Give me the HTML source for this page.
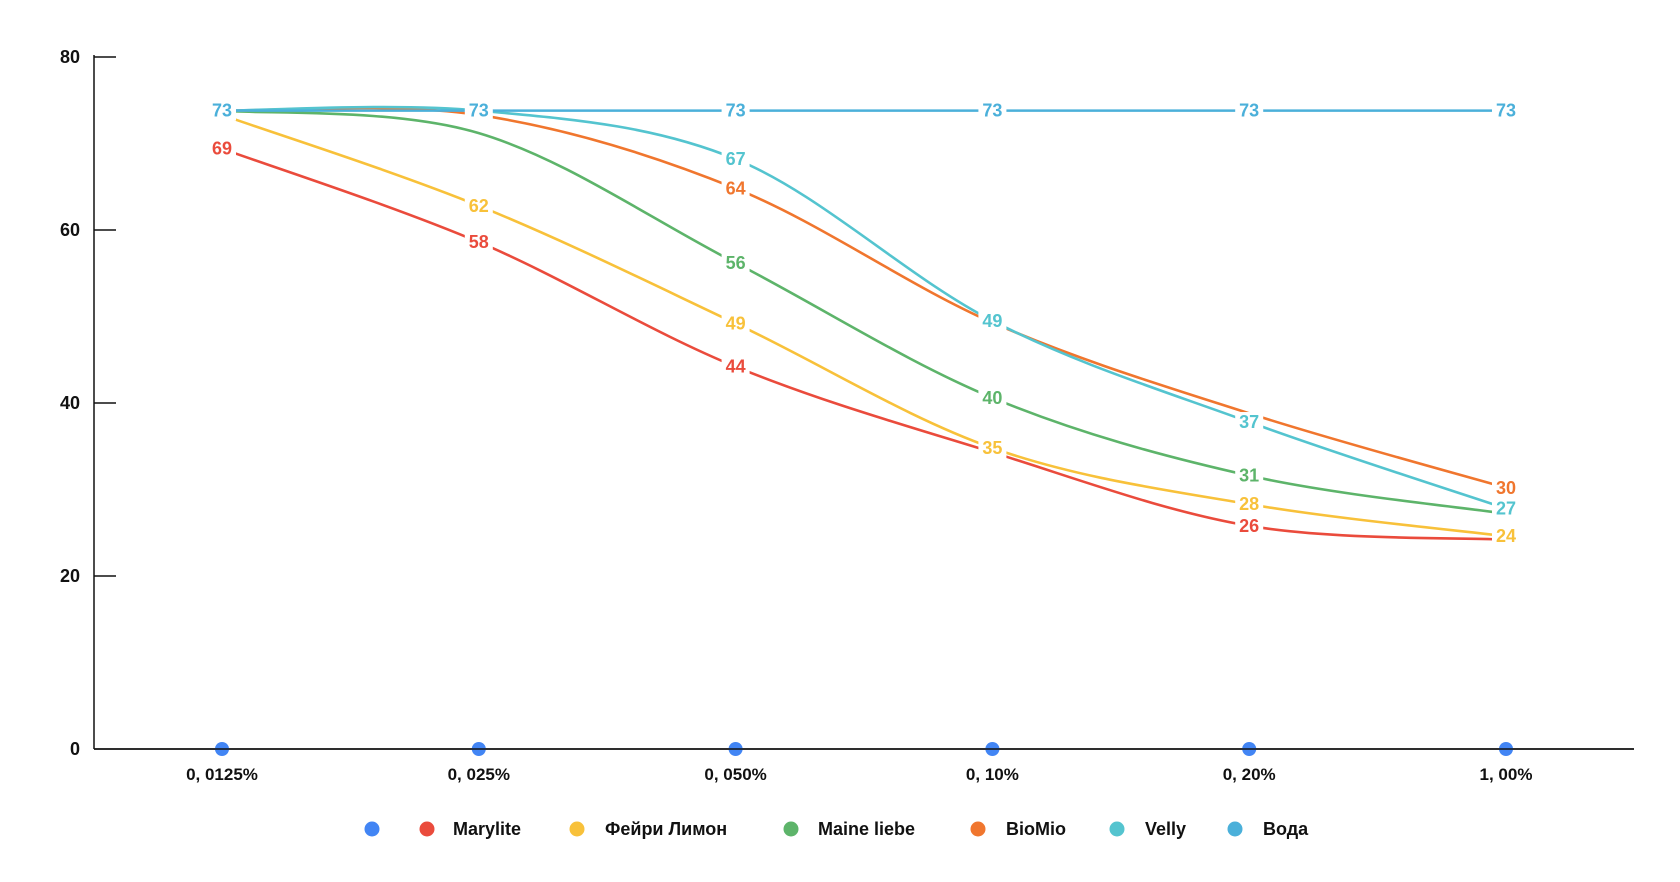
<!DOCTYPE html>
<html><head><meta charset="utf-8">
<style>
html,body{margin:0;padding:0;background:#fff;}
svg{display:block;font-family:"Liberation Sans","Noto Sans CJK JP",sans-serif;}
</style></head>
<body>
<svg id="chart" width="1680" height="882" viewBox="0 0 1680 882"></svg>
<script>
const categories = ["0, 0125%","0, 025%","0, 050%","0, 10%","0, 20%","1, 00%"];
const seriesNames = ["","Marylite","Фейри Лимон","Maine liebe","BioMio","Velly","Вода"];
const seriesColors = ["#4285F4","#EA4B3C","#F8C13A","#5DB46A","#F0762E","#54C4CF","#4BB0DA"];
const s0 = [0,0,0,0,0,0];
const s1 = [69.4,58.6,44.2,34.3,25.8,24.2];
const s2 = [73.3,62.8,49.2,34.8,28.3,24.6];
const s3 = [73.8,71.2,56.2,40.6,31.6,27.2];
const s4 = [73.8,73.3,64.8,49.3,38.8,30.2];
const s5 = [73.8,73.8,68.2,49.5,37.8,27.8];
const s6 = [73.8,73.8,73.8,73.8,73.8,73.8];
const labels1 = [69,58,44,null,26,null];
const labels2 = [null,62,49,35,28,24];
const labels3 = [null,null,56,40,31,null];
const labels4 = [null,null,64,null,null,30];
const labels5 = [null,null,67,49,37,27];
const labels6 = [73,73,73,73,73,73];
const yTicks = [0,20,40,60,80];

const NS="http://www.w3.org/2000/svg";
const svg=document.getElementById('chart');
const X0=94,X1=1634,Y0=749,Y80=57;
const xPos=i=>222+i*256.8;
const yPos=v=>Y0-(v/80)*(Y0-Y80);
function mk(tag,attrs,parent){const e=document.createElementNS(NS,tag);for(const k in attrs)e.setAttribute(k,attrs[k]);(parent||svg).appendChild(e);return e;}

const ax=mk('line',{x1:X0,y1:Y80-2,x2:X0,y2:Y0,stroke:'#111','stroke-width':1.5});


yTicks.forEach(t=>{
  if(t>0){const tk=mk('line',{x1:X0,y1:yPos(t),x2:116,y2:yPos(t),stroke:'#111','stroke-width':1.5});
  
  }
  const tx=mk('text',{x:80,y:yPos(t)+6,'text-anchor':'end','font-size':18,'font-weight':'bold',fill:'#111'});
  tx.textContent=t;
  
  
});
categories.forEach((c,i)=>{
  const tx=mk('text',{x:xPos(i),y:780,'text-anchor':'middle','font-size':17,'font-weight':'bold',fill:'#111'});
  tx.textContent=c;
  
  
});

function smoothPath(xs,ys){
  const n=xs.length;
  let p=`M${xs[0]},${ys[0]}`;
  for(let i=0;i<n-1;i++){
    const x0=xs[Math.max(i-1,0)],y0=ys[Math.max(i-1,0)];
    const x3=xs[Math.min(i+2,n-1)],y3=ys[Math.min(i+2,n-1)];
    const c1x=xs[i]+(xs[i+1]-x0)/6,c1y=ys[i]+(ys[i+1]-y0)/6;
    const c2x=xs[i+1]-(x3-xs[i])/6,c2y=ys[i+1]-(y3-ys[i])/6;
    p+=`C${c1x},${c1y} ${c2x},${c2y} ${xs[i+1]},${ys[i+1]}`;
  }
  return p;
}
const allSeries=[s1,s2,s3,s4,s5,s6];
const allLabels=[labels1,labels2,labels3,labels4,labels5,labels6];
const xs=categories.map((c,i)=>xPos(i));
allSeries.forEach((s,k)=>{
  const path=mk('path',{d:smoothPath(xs,s.map(yPos)),fill:'none',stroke:seriesColors[k+1],'stroke-width':2.6});
  
  
});
allLabels.forEach((L,k)=>{
  L.forEach((v,i)=>{
    if(v===null)return;
    const y=yPos(allSeries[k][i]);
    const r=mk('rect',{x:xPos(i)-14,y:y-10,width:28,height:20,fill:'#fff'});
    
    
    const t=mk('text',{x:xPos(i),y:y+6,'text-anchor':'middle','font-size':18,'font-weight':'bold',fill:seriesColors[k+1]});
    t.textContent=v;
    
    
  });
});
const bx=mk('line',{x1:X0,y1:Y0,x2:X1,y2:Y0,stroke:'#111','stroke-width':1.5});


s0.forEach((v,i)=>{
  const c=mk('circle',{cx:xPos(i),cy:yPos(v),r:7,fill:seriesColors[0]});
  
  
});
mk('line',{x1:X0,y1:Y0,x2:X1,y2:Y0,stroke:'#111','stroke-width':1.5});
const legDot=[372,427,577,791,978,1117,1235];
const legText=[0,453,605,818,1006,1145,1263];
seriesNames.forEach((n,k)=>{
  const c=mk('circle',{cx:legDot[k],cy:829,r:7.5,fill:seriesColors[k]});
  
  
  if(n){const t=mk('text',{x:legText[k],y:835,'font-size':18,'font-weight':'bold',fill:'#111'});
  t.textContent=n;
  
  }
});
</script>
</body></html>
